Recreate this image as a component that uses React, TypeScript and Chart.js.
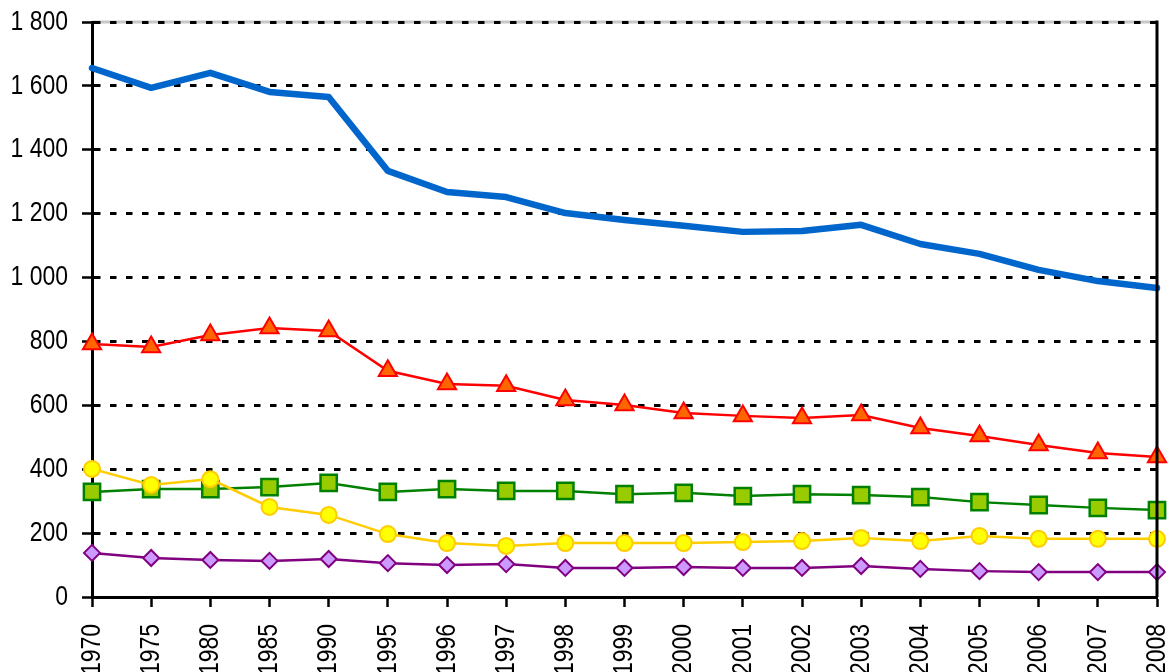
import React, { useEffect, useRef } from "react";
import { Chart, registerables } from "chart.js";

Chart.register(...registerables);

const years = ["1970", "1975", "1980", "1985", "1990", "1995", "1996", "1997", "1998", "1999", "2000", "2001", "2002", "2003", "2004", "2005", "2006", "2007", "2008"];
const blueSeries = [1656, 1594, 1641, 1581, 1565, 1334, 1268, 1252, 1202, 1180, 1162, 1143, 1146, 1165, 1105, 1074, 1024, 989, 967];
const redSeries = [792, 783, 820, 842, 833, 708, 667, 661, 617, 601, 576, 567, 560, 570, 529, 504, 476, 451, 438];
const yellowSeries = [401, 351, 369, 282, 257, 197, 169, 160, 169, 169, 169, 172, 175, 185, 175, 191, 182, 182, 182];
const greenSeries = [329, 338, 338, 344, 357, 329, 338, 332, 332, 322, 326, 316, 322, 319, 313, 297, 288, 279, 272];
const purpleSeries = [138, 122, 116, 113, 119, 106, 100, 103, 91, 91, 94, 91, 91, 97, 88, 81, 78, 78, 78];
const yTicks = [0, 200, 400, 600, 800, 1000, 1200, 1400, 1600, 1800];

const FONT = "'Liberation Sans', Arial, sans-serif";
const FONT_SIZE = 28;
const NARROW = 0.82;

const frame = {
  id: "frame",
  beforeDraw(chart: any) {
    const { ctx, chartArea } = chart;
    // condense tick labels horizontally (narrow typeface look)
    for (const id of Object.keys(chart.scales)) {
      const scale = chart.scales[id];
      const items = scale.getLabelItems(chartArea);
      ctx.save();
      for (const item of items) {
        ctx.font = item.font.string;
        const w = ctx.measureText(String(item.label)).width;
        item.options.maxWidth = w * NARROW;
      }
      ctx.restore();
    }
    ctx.save();
    ctx.strokeStyle = "#c8c8c8";
    ctx.lineWidth = 3;
    ctx.beginPath();
    ctx.moveTo(chartArea.left, chartArea.top);
    ctx.lineTo(chartArea.right, chartArea.top);
    ctx.stroke();
    ctx.restore();
  },
  afterDraw(chart: any) {
    const { ctx, chartArea } = chart;
    ctx.save();
    ctx.strokeStyle = "#000";
    ctx.lineWidth = 3;
    ctx.beginPath();
    ctx.moveTo(chartArea.right, chartArea.top - 1.5);
    ctx.lineTo(chartArea.right, chartArea.bottom);
    ctx.stroke();
    ctx.restore();
  },
};

export default function App() {
  const ref = useRef<HTMLCanvasElement>(null);
  useEffect(() => {
    if (!ref.current) return;
    const chart = new Chart(ref.current, {
      type: "line",
      data: {
        labels: years,
        datasets: [
          {
            label: "blue",
            data: blueSeries,
            borderColor: "#0066cc",
            borderWidth: 6.5,
            pointRadius: 0,
            borderJoinStyle: "round",
            borderCapStyle: "round",
            order: 0,
          },
          {
            label: "red",
            data: redSeries,
            borderColor: "#ff0000",
            borderWidth: 2.5,
            pointStyle: "triangle",
            pointRadius: 10.5,
            pointBorderWidth: 2,
            pointBackgroundColor: "#ff6600",
            pointBorderColor: "#ff0000",
            order: 1,
          },
          {
            label: "yellow",
            data: yellowSeries,
            borderColor: "#ffcc00",
            borderWidth: 2.5,
            pointStyle: "circle",
            pointRadius: 8,
            pointBorderWidth: 2,
            pointBackgroundColor: "#ffff00",
            pointBorderColor: "#ffcc00",
            order: 2,
          },
          {
            label: "green",
            data: greenSeries,
            borderColor: "#008000",
            borderWidth: 2.5,
            pointStyle: "rect",
            pointRadius: 11.5,
            pointBorderWidth: 2.5,
            pointBackgroundColor: "#99cc00",
            pointBorderColor: "#008000",
            order: 3,
          },
          {
            label: "purple",
            data: purpleSeries,
            borderColor: "#800080",
            borderWidth: 2.5,
            pointStyle: "rectRot",
            pointRadius: 8,
            pointBorderWidth: 2,
            pointBackgroundColor: "#cc99ff",
            pointBorderColor: "#800080",
            order: 4,
          },
        ].map((d) => ({ ...d, tension: 0, clip: false as any, pointHoverRadius: d.pointRadius })),
      },
      options: {
        responsive: false,
        animation: false,
        events: [],
        layout: { padding: { top: 22, right: 12, left: 0, bottom: 0 } },
        plugins: { legend: { display: false }, tooltip: { enabled: false } },
        scales: {
          x: {
            type: "category",
            offset: false,
            afterFit(scale: any) {
              scale.height = 75;
              scale.paddingLeft = 0;
              scale.paddingRight = 0;
            },
            grid: {
              drawOnChartArea: false,
              drawTicks: true,
              tickLength: 10,
              tickColor: "#000",
              tickWidth: 2.5,
              color: "#000",
            },
            border: { display: true, color: "#000", width: 3 },
            ticks: {
              autoSkip: false,
              maxRotation: 90,
              minRotation: 90,
              padding: 17,
              color: "#000",
              font: { family: FONT, size: FONT_SIZE },
            },
          },
          y: {
            min: 0,
            max: 1800,
            afterFit(scale: any) {
              scale.width = 92;
              scale.paddingTop = 0;
              scale.paddingBottom = 0;
            },
            afterBuildTicks(scale: any) {
              scale.ticks = yTicks.map((v) => ({ value: v }));
            },
            grid: {
              color: "#000",
              lineWidth: 3,
              tickLength: 10,
              tickColor: "#000",
              tickWidth: 2.5,
              tickBorderDash: [],
            },
            border: { display: true, color: "#000", width: 3, dash: [6.5, 9.5] },
            ticks: {
              padding: 14,
              color: "#000",
              font: { family: FONT, size: FONT_SIZE },
              callback: (v: any) => {
                const n = Number(v);
                return n >= 1000 ? `${Math.floor(n / 1000)} ${String(n % 1000).padStart(3, "0")}` : String(n);
              },
            },
          },
        },
      },
      plugins: [frame],
    });
    return () => chart.destroy();
  }, []);
  return (
    <div style={{ position: "fixed", left: 0, top: 0, width: 1171, height: 672, background: "#fff" }}>
      <canvas ref={ref} width={1171} height={672} style={{ display: "block" }} />
    </div>
  );
}
